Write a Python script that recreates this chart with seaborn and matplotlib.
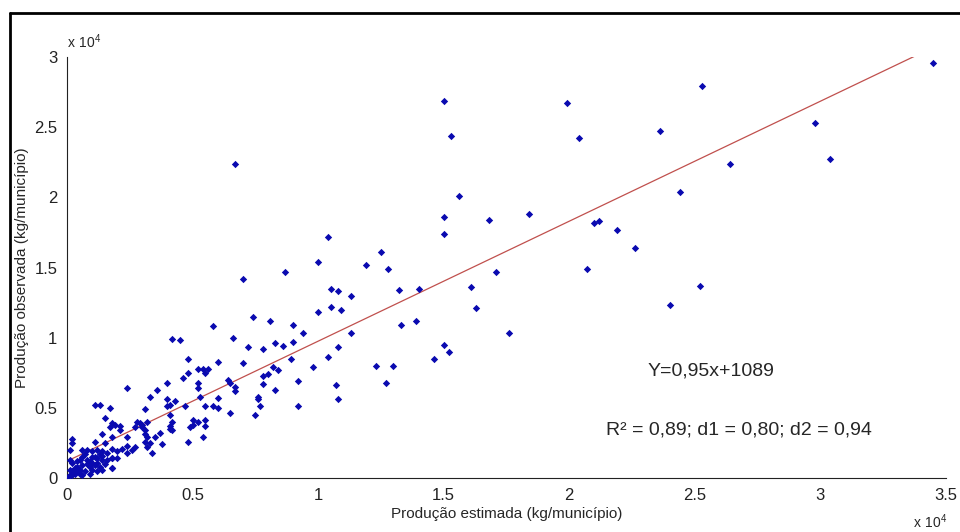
import numpy as np
import pandas as pd
import matplotlib
matplotlib.use("Agg")
import matplotlib.pyplot as plt
import seaborn as sns
from matplotlib.lines import Line2D

# values, in units of 1e4 kg/municipio
est = [
    0.67, 1.50, 1.53, 1.56, 1.50, 1.50, 1.04, 1.25, 1.68, 1.84, 1.99, 2.04, 2.36, 2.53, 2.64, 2.44,
    2.10, 2.12, 2.19, 2.26, 2.07, 2.98, 3.04, 3.45, 2.52, 2.40, 1.76, 1.63, 1.61, 1.71,
    1.00, 1.19, 1.28, 0.87, 0.70, 1.05, 1.08, 1.13, 1.32, 1.40,
    1.00, 1.05, 1.09, 1.13, 1.33, 1.39, 1.08, 1.04, 0.98, 1.23, 1.30, 1.27, 1.07, 1.08,
    1.46, 1.50, 1.52, 0.92, 0.92, 0.89, 0.94, 0.90, 0.90, 0.83, 0.86, 0.81, 0.74, 0.72,
    0.78, 0.66, 0.58, 0.70, 0.60, 0.64, 0.65, 0.67, 0.67, 0.60, 0.65,
    0.76, 0.76, 0.77, 0.75, 0.78, 0.80, 0.78, 0.82, 0.84, 0.83,
    0.54, 0.52, 0.56, 0.55, 0.48, 0.52, 0.52, 0.53, 0.55, 0.58, 0.60,
    0.54, 0.55, 0.55, 0.52, 0.50, 0.49, 0.48, 0.50, 0.47, 0.46, 0.48,
    0.42, 0.45, 0.40, 0.36, 0.33, 0.40, 0.41, 0.43, 0.40, 0.41, 0.42, 0.41, 0.41, 0.42,
    0.37, 0.35, 0.38, 0.31, 0.31, 0.32, 0.31, 0.33, 0.34, 0.32,
    0.28, 0.29, 0.30, 0.27, 0.24, 0.21, 0.19, 0.18, 0.24, 0.24, 0.22, 0.24, 0.26, 0.27,
    0.20, 0.17, 0.18, 0.20, 0.18, 0.17, 0.15, 0.14, 0.15, 0.11, 0.13, 0.11,
    0.18, 0.21, 0.11, 0.32, 0.30, 0.31,
    0.02, 0.02, 0.01, 0.01, 0.06, 0.08, 0.10, 0.12, 0.14, 0.14, 0.14, 0.05, 0.08, 0.10,
    0.02, 0.04, 0.05, 0.06, 0.09, 0.10, 0.12, 0.13, 0.14, 0.02, 0.03, 0.005, 0.18, 0.18, 0.18,
    0.00, 0.01, 0.02, 0.03, 0.04, 0.05, 0.07, 0.08, 0.09, 0.11, 0.12, 0.06, 0.04, 0.03,
    0.01, 0.15, 0.16, 0.13, 0.10, 0.07, 0.16, 0.12, 0.09, 0.06,
]
obs = [
    2.24, 2.69, 2.44, 2.01, 1.86, 1.74, 1.72, 1.61, 1.84, 1.88, 2.67, 2.42, 2.47, 2.79, 2.24, 2.04,
    1.82, 1.83, 1.77, 1.64, 1.49, 2.53, 2.27, 2.96, 1.37, 1.23, 1.03, 1.21, 1.36, 1.47,
    1.54, 1.52, 1.49, 1.47, 1.42, 1.35, 1.33, 1.30, 1.34, 1.35,
    1.18, 1.22, 1.20, 1.03, 1.09, 1.12, 0.93, 0.86, 0.79, 0.80, 0.80, 0.68, 0.66, 0.56,
    0.85, 0.95, 0.90, 0.51, 0.69, 0.85, 1.03, 1.09, 0.97, 0.96, 0.94, 1.12, 1.15, 0.93,
    0.92, 1.00, 1.08, 0.82, 0.83, 0.70, 0.68, 0.65, 0.62, 0.57, 0.46,
    0.58, 0.56, 0.51, 0.45, 0.73, 0.74, 0.67, 0.79, 0.77, 0.63,
    0.78, 0.78, 0.78, 0.75, 0.85, 0.68, 0.64, 0.58, 0.51, 0.51, 0.50,
    0.29, 0.37, 0.41, 0.40, 0.41, 0.36, 0.26, 0.38, 0.51, 0.71, 0.75,
    0.99, 0.98, 0.68, 0.63, 0.58, 0.56, 0.52, 0.55, 0.51, 0.45, 0.40, 0.37, 0.35, 0.34,
    0.32, 0.29, 0.24, 0.49, 0.34, 0.29, 0.26, 0.25, 0.18, 0.22,
    0.40, 0.39, 0.38, 0.36, 0.64, 0.37, 0.38, 0.29, 0.29, 0.23, 0.21, 0.18, 0.20, 0.22,
    0.19, 0.36, 0.14, 0.14, 0.07, 0.50, 0.43, 0.31, 0.25, 0.52, 0.52, 0.15,
    0.39, 0.34, 0.26, 0.40, 0.36, 0.31,
    0.28, 0.25, 0.20, 0.13, 0.20, 0.20, 0.19, 0.20, 0.19, 0.16, 0.13, 0.13, 0.13, 0.11,
    0.11, 0.08, 0.06, 0.09, 0.08, 0.06, 0.11, 0.08, 0.06, 0.02, 0.04, 0.01, 0.07, 0.14, 0.21,
    0.00, 0.02, 0.05, 0.03, 0.05, 0.03, 0.05, 0.10, 0.12, 0.09, 0.14, 0.15, 0.12, 0.07,
    0.06, 0.10, 0.13, 0.17, 0.15, 0.17, 0.18, 0.05, 0.03, 0.02,
]

# fitted line as drawn on the chart
fit_slope = 0.855
fit_intercept = 1200
fit_x_end = 33800

df = pd.DataFrame({"est": np.array(est) * 1e4, "obs": np.array(obs) * 1e4})

sns.set_style("white")
plt.rcParams["font.family"] = ["Liberation Sans", "DejaVu Sans"]

fig = plt.figure(figsize=(9.6, 5.32), dpi=100)
ax = fig.add_axes([67 / 960, 1 - 478 / 532, (946 - 67) / 960, (478 - 57) / 532])

line_x = np.array([0, fit_x_end])
sns.lineplot(x=line_x, y=fit_slope * line_x + fit_intercept, ax=ax, color="#c0504d", linewidth=0.9)
sns.scatterplot(data=df, x="est", y="obs", ax=ax, marker="D", s=14, color="#0a0ab0",
                linewidth=0, zorder=3)

ax.set_xlim(0, 35000)
ax.set_ylim(0, 30000)
xt = np.arange(0, 35001, 5000)
yt = np.arange(0, 30001, 5000)
ax.set_xticks(xt)
ax.set_yticks(yt)
ax.set_xticklabels([f"{v / 1e4:g}" for v in xt])
ax.set_yticklabels([f"{v / 1e4:g}" for v in yt])
ax.tick_params(direction="in", length=4, width=0.8, labelsize=12, pad=7, colors="#222222")

for s in ["top", "right"]:
    ax.spines[s].set_visible(False)
for s in ["left", "bottom"]:
    ax.spines[s].set_color("#222222")
    ax.spines[s].set_linewidth(0.8)

ax.set_xlabel("Produção estimada (kg/município)", fontsize=11, labelpad=3)
ax.set_ylabel("Produção observada (kg/município)", fontsize=11, labelpad=4)

ax.text(0.0, 1.015, r"$\mathregular{x\ 10^4}$", transform=ax.transAxes, fontsize=10,
        ha="left", va="bottom")
fig.text(947 / 960, 1 - 531 / 532, r"$\mathregular{x\ 10^4}$", fontsize=10, ha="right", va="bottom")

ax.text(0.733, 0.255, "Y=0,95x+1089", transform=ax.transAxes, fontsize=14,
        ha="center", va="center")
ax.text(0.764, 0.115, "R² = 0,89; d1 = 0,80; d2 = 0,94", transform=ax.transAxes, fontsize=14,
        ha="center", va="center")

# black frame around the figure (cropped at right and bottom)
fig.add_artist(Line2D([10 / 960, 1], [1 - 13 / 532, 1 - 13 / 532], color="black", linewidth=2,
                      transform=fig.transFigure))
fig.add_artist(Line2D([10 / 960, 10 / 960], [0, 1 - 13 / 532], color="black", linewidth=2,
                      transform=fig.transFigure))

fig.savefig("out.png", dpi=100)
